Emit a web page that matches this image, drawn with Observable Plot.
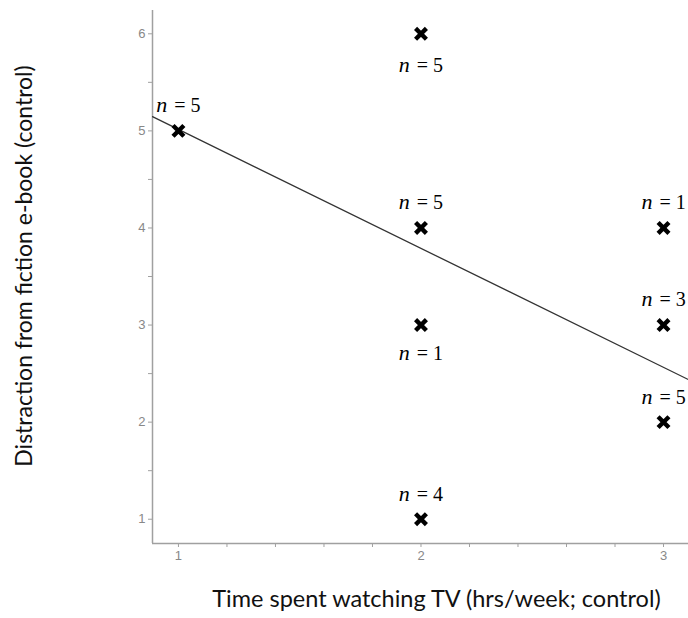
<!DOCTYPE html>
<html>
<head>
<meta charset="utf-8">
<script src="https://cdn.jsdelivr.net/npm/d3@7"></script>
<script src="https://cdn.jsdelivr.net/npm/@observablehq/plot@0.6"></script>
<style>
  html, body { margin: 0; padding: 0; background: #fff; }
  #chart svg { display: block; }
</style>
</head>
<body>
<div id="chart"></div>
<script>
// Weekly TV hours vs. distraction while reading a fiction e-book (control group).
const tvHours     = [1, 2, 2, 2, 2, 3, 3, 3];
const distraction = [5, 6, 4, 3, 1, 4, 3, 2];
const counts      = [5, 5, 5, 1, 4, 1, 3, 5];
const labelSide   = ["above", "below", "above", "below", "above", "above", "above", "above"];

const xTitle = "Time spent watching TV (hrs/week; control)";
const yTitle = "Distraction from fiction e-book (control)";
const xMajorTicks = [1, 2, 3];
const yMajorTicks = [1, 2, 3, 4, 5, 6];

const points = tvHours.map((x, i) => ({
  x, y: distraction[i], n: counts[i], side: labelSide[i]
}));

// Count-weighted least-squares fit through the groups.
const W = d3.sum(points, p => p.n);
const mx = d3.sum(points, p => p.n * p.x) / W;
const my = d3.sum(points, p => p.n * p.y) / W;
const sxy = d3.sum(points, p => p.n * (p.x - mx) * (p.y - my));
const sxx = d3.sum(points, p => p.n * (p.x - mx) ** 2);
const slope = sxy / sxx;
const intercept = my - slope * mx;

const xDomain = [0.893, 3.103];
const yDomain = [0.75, 6.24];
const fitLine = xDomain.map(x => ({x, y: intercept + slope * x}));

const xTicks = d3.range(1, 3.001, 0.2).map(v => +v.toFixed(1));
const yTicks = d3.range(1, 6.001, 0.5);
const axisGrey = "#a0a0a0";

const chart = Plot.plot({
  width: 688,
  height: 618,
  marginLeft: 152,
  marginRight: 0,
  marginTop: 10,
  marginBottom: 75,
  style: {background: "#fff", fontFamily: "Liberation Sans, Arial, sans-serif"},
  x: {domain: xDomain},
  y: {domain: yDomain},
  marks: [
    Plot.ruleX([xDomain[0]], {stroke: axisGrey, strokeWidth: 1.5}),
    Plot.ruleY([yDomain[0]], {stroke: axisGrey, strokeWidth: 1.5}),
    Plot.axisX({
      ticks: xTicks, tickSize: 4, tickPadding: 3, stroke: axisGrey, color: "#888",
      fontSize: 13, label: null,
      tickFormat: d => xMajorTicks.includes(d) ? String(d) : ""
    }),
    Plot.axisY({
      ticks: yTicks, tickSize: 4, tickPadding: 3, stroke: axisGrey, color: "#888",
      fontSize: 13, label: null,
      tickFormat: d => yMajorTicks.includes(d) ? String(d) : ""
    }),
    Plot.line(fitLine, {x: "x", y: "y", stroke: "#333", strokeWidth: 1.3, clip: true}),
    Plot.dot(points, {x: "x", y: "y", symbol: "times", r: 5, stroke: "#000", strokeWidth: 4.4}),
    Plot.text(points, {
      x: "x", y: "y",
      text: p => `n = ${p.n}`,
      className: "nlab",
      fontSize: 20,
      fill: "#000"
    }),
    Plot.text([xTitle], {frameAnchor: "bottom", textAnchor: "middle", dx: 16, dy: 63, fontSize: 23.5,
      fill: "#111", fontFamily: "Lato, sans-serif"}),
    Plot.text([yTitle], {frameAnchor: "left", textAnchor: "middle", rotate: -90, dx: -128, dy: -11,
      fontSize: 23, fill: "#111", fontFamily: "Lato, sans-serif"})
  ]
});

// Place each "n = k" label above or below its marker, with an italic n.
const offsets = {above: -25, below: 29, belowTop: 32};
d3.select(chart).selectAll("g.nlab text").each(function(_, i) {
  const p = points[i];
  const t = d3.select(this);
  const tr = t.attr("transform") || "";
  const dy = p.side === "above" ? offsets.above : (p.y === d3.max(distraction) ? offsets.belowTop : offsets.below);
  t.attr("transform", tr + ` translate(0,${dy})`)
    .attr("font-family", "Liberation Serif, DejaVu Serif, serif")
    .text(null);
  t.append("tspan").attr("font-style", "italic").attr("font-size", 22).text("n");
  t.append("tspan").attr("dx", 2).text(` = ${p.n}`);
});

document.getElementById("chart").append(chart);
</script>
</body>
</html>
